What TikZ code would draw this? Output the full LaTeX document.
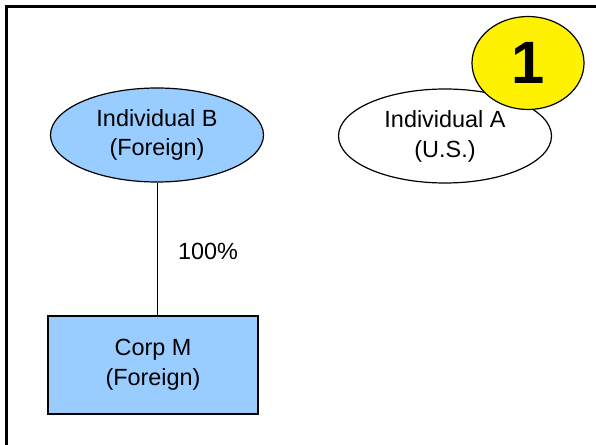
\documentclass[tikz,border=0pt]{standalone}
\usepackage{fontspec}
\setmainfont{Liberation Sans}
\usetikzlibrary{shapes.geometric}
\definecolor{foreign}{HTML}{99CCFF}

\begin{document}
\begin{tikzpicture}[x=1bp,y=-1bp,
            party/.style={shape=ellipse, draw, line width=1.2bp, inner sep=0pt,
              minimum width=213bp, minimum height=94bp, align=center,
              font=\fontsize{23.5}{30}\selectfont},
            corp/.style={shape=rectangle, draw, line width=1.2bp, inner sep=0pt,
              minimum width=210bp, minimum height=98bp, align=center,
              font=\fontsize{23.5}{30}\selectfont, fill=foreign},
            badge/.style={shape=ellipse, draw, line width=1.2bp, fill=yellow,
              minimum width=112bp, minimum height=93bp, inner sep=0pt,
              font=\fontsize{60}{60}\selectfont\bfseries}]
        \useasboundingbox (0,0) rectangle (596,445);

        % frame
        \draw[line width=3bp] (6.5,445) -- (6.5,6.5) -- (596,6.5);

        \node[party, fill=foreign] (indB) at (157,135) {Individual B\\(Foreign)};
        \node[party, fill=white] (indA) at (445,136) {Individual A\\(U.S.)};
        \node[badge] (one) at (528,63) {1};

        \node[corp] (corpM) at (153,365) {Corp M\\(Foreign)};

        \draw[line width=1bp] (indB.south) -- (indB.south |- corpM.north);
        \node[font=\fontsize{23.5}{30}\selectfont] (pct) at (208,251) {100\%};
    \end{tikzpicture}
\end{document}
